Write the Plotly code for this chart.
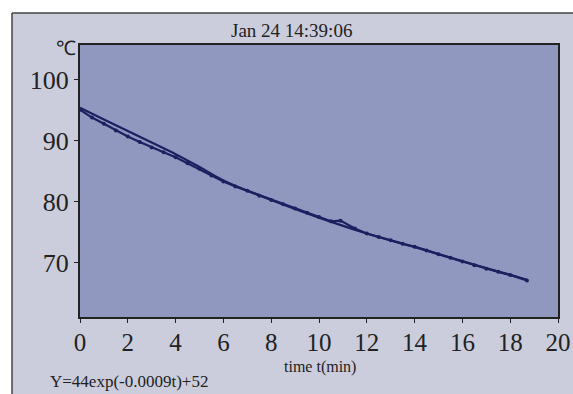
import plotly.graph_objects as go

# measured data (time in min, temperature in °C)
t_data = [0, 0.5, 1, 1.5, 2, 2.5, 3, 3.5, 4, 4.5, 5, 5.5, 6, 6.5, 7, 7.5, 8, 8.5, 9, 9.5,
          10, 10.5, 10.9, 11.5, 12, 12.5, 13, 13.5, 14, 14.5, 15, 15.5, 16, 16.5, 17, 17.5, 18, 18.7]
y_data = [95.1, 93.8, 92.8, 91.7, 90.7, 89.8, 88.9, 88.1, 87.3, 86.3, 85.4, 84.3, 83.3, 82.5, 81.8, 81.0,
          80.3, 79.6, 78.9, 78.2, 77.5, 76.8, 76.9, 75.6, 74.8, 74.2, 73.7, 73.1, 72.6, 72.0, 71.4, 70.8,
          70.2, 69.6, 69.0, 68.5, 68.0, 67.1]

# fitted curve
t_fit = [0, 1, 2, 3, 4, 5, 6, 8, 10, 12, 14, 16, 18, 18.7]
y_fit = [95.4, 93.5, 91.6, 89.7, 87.8, 85.7, 83.5, 80.3, 77.4, 74.8, 72.6, 70.2, 68.0, 67.2]

x_ticks = [0, 2, 4, 6, 8, 10, 12, 14, 16, 18, 20]
y_ticks = [70, 80, 90, 100]

title_text = "Jan 24 14:39:06"
x_label = "time t(min)"
y_unit = "℃"
formula_text = "Y=44exp(-0.0009t)+52"

line_col = "#1b2060"
serif = "Liberation Serif"

fig = go.Figure()
fig.add_trace(go.Scatter(x=t_fit, y=y_fit, mode="lines",
                         line=dict(color=line_col, width=2.2, shape="spline"),
                         showlegend=False, hoverinfo="skip"))
fig.add_trace(go.Scatter(x=t_data, y=y_data, mode="lines+markers",
                         line=dict(color=line_col, width=2.2),
                         marker=dict(color=line_col, size=4),
                         showlegend=False))

W, H = 573, 394
L, R, T, B = 80, 15, 45, 77
pw, ph = W - L - R, H - T - B

def px(x):
    return (x - L) / pw

def py(y):
    return (H - B - y) / ph

shapes = [
    # white strips outside the panel
    dict(type="rect", xref="paper", yref="paper", x0=px(0), x1=px(W), y0=py(0), y1=py(13),
         fillcolor="white", line=dict(width=0), layer="below"),
    dict(type="rect", xref="paper", yref="paper", x0=px(0), x1=px(12), y0=py(H), y1=py(0),
         fillcolor="white", line=dict(width=0), layer="below"),
    # panel border
    dict(type="line", xref="paper", yref="paper", x0=px(12), x1=px(W), y0=py(13), y1=py(13),
         line=dict(color="#444", width=1.5)),
    dict(type="line", xref="paper", yref="paper", x0=px(12), x1=px(12), y0=py(13), y1=py(H),
         line=dict(color="#444", width=1.5)),
]

fig.update_layout(
    width=W, height=H,
    margin=dict(l=L, r=R, t=T, b=B),
    paper_bgcolor="#cbcddc",
    plot_bgcolor="#9098c0",
    shapes=shapes,
    showlegend=False,
    xaxis=dict(range=[0, 20], tickvals=x_ticks, ticks="outside", ticklen=4, tickcolor="#222",
               showline=True, linecolor="#222", linewidth=2, mirror=True, showgrid=False,
               zeroline=False, automargin=False, ticklabelstandoff=-2,
               tickfont=dict(family=serif, size=25, color="#222")),
    yaxis=dict(range=[61.1, 105.7], tickvals=y_ticks, ticks="outside", ticklen=4, tickcolor="#222",
               showline=True, linecolor="#222", linewidth=2, mirror=True, showgrid=False,
               zeroline=False, automargin=False,
               tickfont=dict(family=serif, size=26, color="#222")),
    annotations=[
        dict(text=title_text, xref="paper", yref="paper", x=px(291), y=py(31), showarrow=False,
             font=dict(family=serif, size=19, color="#222"), xanchor="center", yanchor="middle"),
        dict(text=y_unit, xref="paper", yref="paper", x=px(66), y=py(48), showarrow=False,
             font=dict(family=serif, size=20, color="#222"), xanchor="center", yanchor="middle"),
        dict(text=x_label, xref="paper", yref="paper", x=px(320), y=py(367), showarrow=False,
             font=dict(family=serif, size=16, color="#222"), xanchor="center", yanchor="middle"),
        dict(text=formula_text, xref="paper", yref="paper", x=px(48), y=py(381), showarrow=False,
             font=dict(family=serif, size=17, color="#222"), xanchor="left", yanchor="middle"),
    ],
)

fig.write_html("out.html", config={"displayModeBar": False},
               post_script="document.body.style.margin='0';document.body.style.overflow='hidden';")
